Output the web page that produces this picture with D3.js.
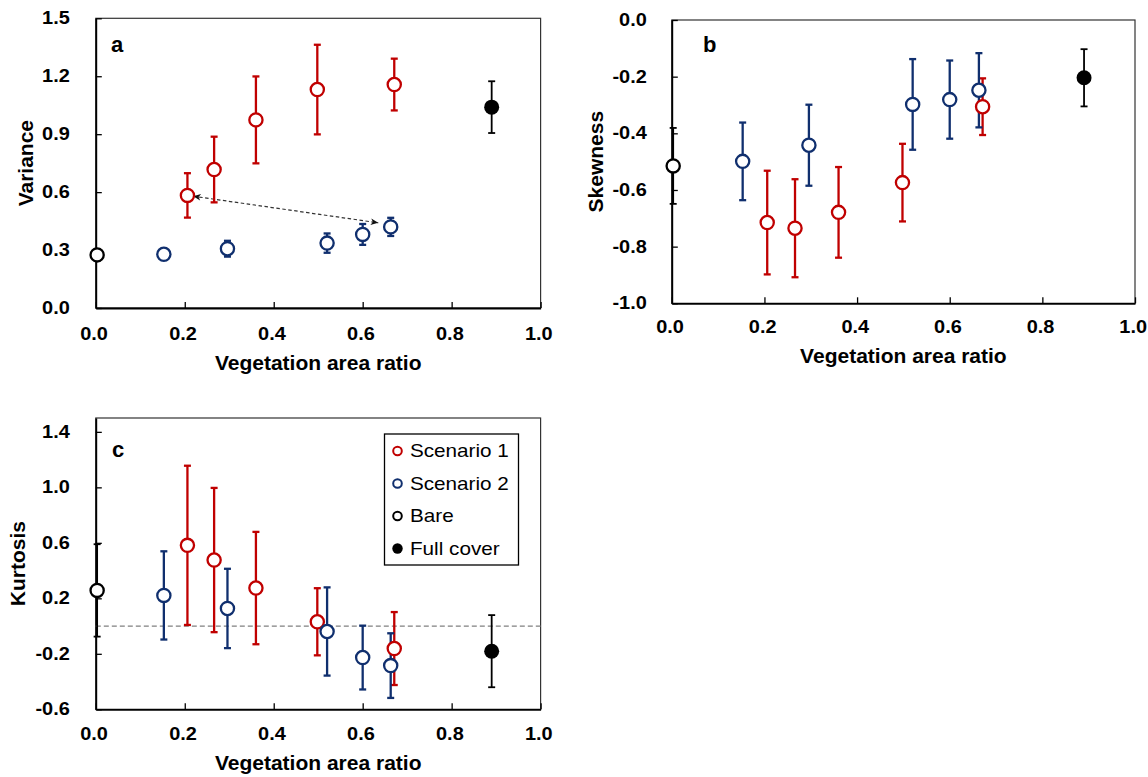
<html><head>
<meta charset="utf-8">
<title>Vegetation area ratio</title>
<script src="https://d3js.org/d3.v7.min.js"></script>
<style>
  body { margin: 0; background: #fff; }
  text { font-family: "Liberation Sans", Arial, sans-serif; fill: #000; }
  .tick text { font-size: 17.5px; font-weight: bold; }
  text.title { font-size: 21px; font-weight: bold; }
  text.letter { font-size: 22px; font-weight: bold; }
  text.legend { font-size: 18px; }
</style>
</head>
<body>
<svg id="chart" width="1148" height="777"></svg>

<script>

// x positions (vegetation area ratio) for each group
const xRed  = [0.206, 0.266, 0.360, 0.498, 0.671];
const xBlue = [0.153, 0.296, 0.520, 0.600, 0.663];
const xBare = [0.003];
const xFull = [0.890];

// panel a - variance
const redVar     = [0.583, 0.717, 0.974, 1.131, 1.157];
const redVarErr  = [0.115, 0.170, 0.225, 0.232, 0.134];
const blueVar    = [0.278, 0.307, 0.336, 0.381, 0.420];
const blueVarErr = [0.025, 0.041, 0.050, 0.054, 0.047];
const bareVar    = [0.275];
const bareVarErr = [0.030];
const fullVar    = [1.040];
const fullVarErr = [0.134];

// panel b - skewness
const redSkew     = [-0.715, -0.735, -0.679, -0.574, -0.306];
const redSkewErr  = [0.183, 0.173, 0.160, 0.137, 0.100];
const blueSkew    = [-0.499, -0.442, -0.298, -0.281, -0.248];
const blueSkewErr = [0.137, 0.143, 0.160, 0.138, 0.131];
const bareSkew    = [-0.515];
const bareSkewErr = [0.134];
const fullSkew    = [-0.204];
const fullSkewErr = [0.101];

// panel c - kurtosis
const redKurt     = [0.582, 0.476, 0.274, 0.031, -0.162];
const redKurtErr  = [0.574, 0.520, 0.405, 0.242, 0.263];
const blueKurt    = [0.221, 0.127, -0.039, -0.227, -0.285];
const blueKurtErr = [0.318, 0.286, 0.318, 0.230, 0.233];
const bareKurt    = [0.257];
const bareKurtErr = [0.333];
const fullKurt    = [-0.181];
const fullKurtErr = [0.260];

// ticks
const xTicks    = [0, 0.2, 0.4, 0.6, 0.8, 1.0];
const varTicks  = [0, 0.3, 0.6, 0.9, 1.2, 1.5];
const skewTicks = [-1.0, -0.8, -0.6, -0.4, -0.2, 0.0];
const kurtTicks = [-0.6, -0.2, 0.2, 0.6, 1.0, 1.4];

// legend
const legendNames = ["Scenario 1", "Scenario 2", "Bare", "Full cover"];

// arrow in panel a, [x, y] in data units
const arrowFrom = [0.219, 0.579];
const arrowTo   = [0.635, 0.441];

const RED = "#c00000", BLUE = "#102f6e", BLACK = "#000";
const STRETCH = 1.14;   // the figure's lettering is a bit wide

const svg = d3.select("#chart");

// arrow heads
const defs = svg.append("defs");
["start", "end"].forEach(k => {
  defs.append("marker")
      .attr("id", "arr-" + k)
      .attr("viewBox", "-10 -5 12 10")
      .attr("markerWidth", 10).attr("markerHeight", 9)
      .attr("markerUnits", "userSpaceOnUse")
      .attr("orient", k === "start" ? "auto-start-reverse" : "auto")
      .append("path")
      .attr("d", "M0,0L-9,-4L-6.5,0L-9,4Z")
      .attr("fill", "#111");
});

function group(xs, ys, es, color, filled) {
  return xs.map((x, i) => ({ x: x, y: ys[i], e: es[i], color: color, filled: filled }));
}

function drawPanel(p) {
  const x = d3.scaleLinear().domain([0, 1]).range([p.left, p.right]);
  const y = d3.scaleLinear().domain(p.yDomain).range([p.bottom, p.top]);
  const g = svg.append("g");

  // frame (top/right lighter)
  g.append("rect")
   .attr("x", p.left).attr("y", p.top)
   .attr("width", p.right - p.left).attr("height", p.bottom - p.top)
   .attr("fill", "none").attr("stroke", "#333").attr("stroke-width", 1.2);

  const fmt = d => d.toFixed(1);

  const ax = g.append("g")
    .attr("transform", `translate(0,${p.bottom})`)
    .call(d3.axisBottom(x).tickValues(xTicks).tickFormat(fmt)
            .tickSizeInner(-6).tickSizeOuter(0).tickPadding(p.xPad));
  const ay = g.append("g")
    .attr("transform", `translate(${p.left},0)`)
    .call(d3.axisLeft(y).tickValues(p.yTicks).tickFormat(fmt)
            .tickSizeInner(-6).tickSizeOuter(0).tickPadding(p.yPad / STRETCH));
  [ax, ay].forEach(a => {
    a.select(".domain").attr("stroke", "#000").attr("stroke-width", 1.8);
    a.selectAll(".tick line").attr("stroke", "#000").attr("stroke-width", 1.3);
    a.selectAll(".tick text").attr("font-family", null).attr("font-size", null)
     .attr("transform", `scale(${STRETCH},1)`);
  });
  ax.selectAll(".tick text").attr("dx", -2);

  // titles
  g.append("text").attr("class", "title")
   .attr("x", (p.left + p.right) / 2).attr("y", p.xTitleY)
   .attr("text-anchor", "middle").text("Vegetation area ratio");
  g.append("text").attr("class", "title")
   .attr("transform", `translate(${p.yTitleX},${(p.top + p.bottom) / 2}) rotate(-90)`)
   .attr("text-anchor", "middle").text(p.yTitle);
  g.append("text").attr("class", "letter")
   .attr("x", p.letterX).attr("y", p.letterY).text(p.letter);

  if (p.zeroLine) {
    g.append("line")
     .attr("x1", p.left).attr("x2", p.right)
     .attr("y1", y(0)).attr("y2", y(0))
     .attr("stroke", "#808080").attr("stroke-width", 1.2)
     .attr("stroke-dasharray", "5,3");
  }

  if (p.arrow) {
    g.append("line")
     .attr("x1", x(p.arrow[0][0])).attr("y1", y(p.arrow[0][1]))
     .attr("x2", x(p.arrow[1][0])).attr("y2", y(p.arrow[1][1]))
     .attr("stroke", "#333").attr("stroke-width", 1.2)
     .attr("stroke-dasharray", "3.5,2.5")
     .attr("marker-start", "url(#arr-start)")
     .attr("marker-end", "url(#arr-end)");
  }

  const pts = p.groups.flat();

  // error bars
  const bars = g.append("g").selectAll("g.bar").data(pts).join("g").attr("class", "bar")
    .attr("stroke", d => d.color)
    .attr("stroke-width", d => d.color === BLACK ? 1.8 : 2.3);
  bars.append("line")
    .attr("x1", d => x(d.x)).attr("x2", d => x(d.x))
    .attr("y1", d => y(d.y - d.e)).attr("y2", d => y(d.y + d.e));
  bars.append("line")
    .attr("x1", d => x(d.x) - 3.5).attr("x2", d => x(d.x) + 3.5)
    .attr("y1", d => y(d.y + d.e)).attr("y2", d => y(d.y + d.e));
  bars.append("line")
    .attr("x1", d => x(d.x) - 3.5).attr("x2", d => x(d.x) + 3.5)
    .attr("y1", d => y(d.y - d.e)).attr("y2", d => y(d.y - d.e));

  // markers
  g.append("g").selectAll("circle").data(pts).join("circle")
    .attr("cx", d => x(d.x)).attr("cy", d => y(d.y))
    .attr("r", d => d.filled ? 7.5 : 6.6)
    .attr("fill", d => d.filled ? d.color : "#fff")
    .attr("stroke", d => d.color)
    .attr("stroke-width", d => d.filled ? 0 : 2.3);

  return g;
}

drawPanel({
  left: 95.8, right: 540.6, top: 18.3, bottom: 308,
  yDomain: [0, 1.5], yTicks: varTicks, xPad: 19.5, yPad: 26,
  yTitle: "Variance", yTitleX: 33, xTitleY: 370,
  letter: "a", letterX: 111, letterY: 52,
  arrow: [arrowFrom, arrowTo],
  groups: [
    group(xRed, redVar, redVarErr, RED, false),
    group(xBlue, blueVar, blueVarErr, BLUE, false),
    group(xBare, bareVar, bareVarErr, BLACK, false),
    group(xFull, fullVar, fullVarErr, BLACK, true)
  ]
});

drawPanel({
  left: 671.8, right: 1135, top: 20, bottom: 303.3,
  yDomain: [-1, 0], yTicks: skewTicks, xPad: 17.5, yPad: 25,
  yTitle: "Skewness", yTitleX: 603, xTitleY: 363,
  letter: "b", letterX: 703, letterY: 52,
  groups: [
    group(xRed, redSkew, redSkewErr, RED, false),
    group(xBlue, blueSkew, blueSkewErr, BLUE, false),
    group(xBare, bareSkew, bareSkewErr, BLACK, false),
    group(xFull, fullSkew, fullSkewErr, BLACK, true)
  ]
});

drawPanel({
  left: 95.8, right: 540.6, top: 418, bottom: 709.3,
  yDomain: [-0.6, 1.5], yTicks: kurtTicks, xPad: 18.5, yPad: 26,
  yTitle: "Kurtosis", yTitleX: 25, xTitleY: 770,
  letter: "c", letterX: 112, letterY: 457,
  zeroLine: true,
  groups: [
    group(xRed, redKurt, redKurtErr, RED, false),
    group(xBlue, blueKurt, blueKurtErr, BLUE, false),
    group(xBare, bareKurt, bareKurtErr, BLACK, false),
    group(xFull, fullKurt, fullKurtErr, BLACK, true)
  ]
});

// legend inside panel c
const legendColors = [RED, BLUE, BLACK, BLACK];
const legend = svg.append("g");
legend.append("rect")
  .attr("x", 384.5).attr("y", 434).attr("width", 134).attr("height", 131)
  .attr("fill", "#fff").attr("stroke", "#000").attr("stroke-width", 1.3);
const li = legend.selectAll("g.item").data(legendNames).join("g").attr("class", "item")
  .attr("transform", (d, i) => `translate(397.5,${451 + i * 32.5})`);
li.append("circle")
  .attr("r", (d, i) => i === 3 ? 5.2 : 4.3)
  .attr("fill", (d, i) => i === 3 ? BLACK : "#fff")
  .attr("stroke", (d, i) => legendColors[i])
  .attr("stroke-width", (d, i) => i === 3 ? 0 : 2);
li.append("text").attr("class", "legend")
  .attr("x", 12.5 / 1.15).attr("dy", "0.36em")
  .attr("transform", "scale(1.15,1)")
  .text(d => d);

</script>
</body>
</html>
